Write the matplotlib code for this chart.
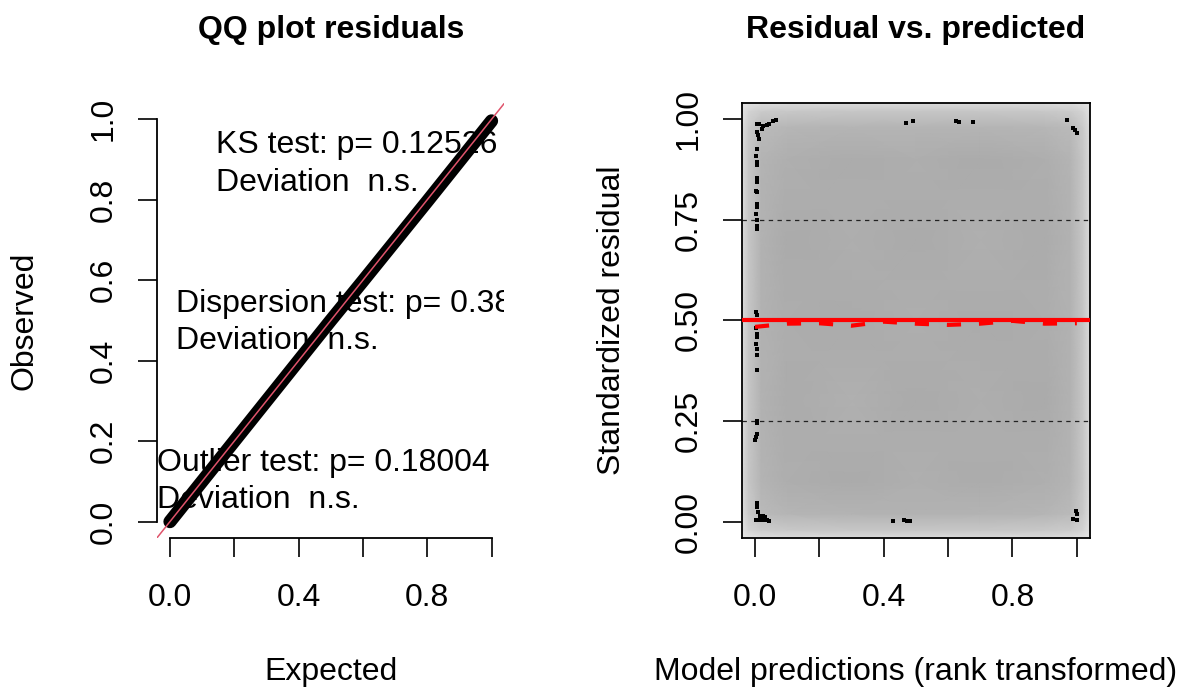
import matplotlib.pyplot as plt
from matplotlib.colors import LinearSegmentedColormap

plt.rcParams['font.family'] = ['Liberation Sans', 'DejaVu Sans']
plt.rcParams['font.size'] = 23

# QQ plot
qq_expected = [0.0, 0.1, 0.2, 0.3, 0.4, 0.5, 0.6, 0.7, 0.8, 0.9, 1.0]
qq_observed = [0.0, 0.1, 0.2, 0.3, 0.4, 0.5, 0.598, 0.697, 0.796, 0.896, 0.996]

ks_text = ["KS test: p= 0.12526", "Deviation  n.s."]
disp_text = ["Dispersion test: p= 0.384", "Deviation  n.s."]
outl_text = ["Outlier test: p= 0.18004", "Deviation  n.s."]

qq_ticks = [0.0, 0.2, 0.4, 0.6, 0.8, 1.0]
qq_xticklabels = ["0.0", "", "0.4", "", "0.8", ""]
qq_yticklabels = ["0.0", "0.2", "0.4", "0.6", "0.8", "1.0"]

# residual vs predicted: outlying points drawn on top of the smooth density
pred_x = [0.005, 0.013, 0.026, 0.021, 0.036, 0.045, 0.057, 0.065, 0.005, 0.010,
          0.013, 0.007, 0.003, 0.005, 0.005, 0.007, 0.005, 0.003, 0.007, 0.007,
          0.005, 0.003, 0.005, 0.005, 0.005,
          0.003, 0.005, 0.003, 0.005, 0.007, 0.003, 0.005, 0.007, 0.005,
          0.005, 0.007, 0.005, 0.003, 0.001,
          0.005, 0.007, 0.010, 0.016, 0.026, 0.031, 0.016, 0.026, 0.036, 0.045, 0.003,
          0.428, 0.463, 0.471, 0.481,
          0.468, 0.492, 0.626, 0.634, 0.676,
          0.970, 0.989, 0.994, 1.002,
          0.997, 1.001, 0.989, 0.999]
resid_y = [0.989, 0.988, 0.983, 0.977, 0.985, 0.989, 0.996, 0.999, 0.968, 0.960,
           0.952, 0.927, 0.910, 0.894, 0.886, 0.853, 0.844, 0.823, 0.819, 0.790,
           0.782, 0.765, 0.749, 0.736, 0.728,
           0.521, 0.513, 0.480, 0.467, 0.459, 0.442, 0.430, 0.413, 0.377,
           0.251, 0.245, 0.218, 0.210, 0.202,
           0.046, 0.036, 0.023, 0.015, 0.015, 0.011, 0.004, 0.004, 0.004, 0.002, 0.004,
           0.001, 0.004, 0.002, 0.001,
           0.992, 0.996, 0.996, 0.994, 0.994,
           0.998, 0.979, 0.973, 0.967,
           0.027, 0.019, 0.007, 0.004]

# fitted median quantile (red dashed)
quant_x = [0.0, 0.1, 0.2, 0.3, 0.4, 0.5, 0.6, 0.7, 0.8, 0.9, 1.0]
quant_y = [0.484, 0.492, 0.493, 0.487, 0.497, 0.492, 0.489, 0.492, 0.499, 0.492, 0.493]

res_ticks_x = [0.0, 0.2, 0.4, 0.6, 0.8, 1.0]
res_xticklabels = ["0.0", "", "0.4", "", "0.8", ""]
res_ticks_y = [0.0, 0.25, 0.5, 0.75, 1.0]
res_yticklabels = ["0.00", "0.25", "0.50", "0.75", "1.00"]

# smoothed density shading (0 = white, 1 = darkgrey), rows bottom to top
dens_grid = [-0.04, -0.02, 0.02, 0.1, 0.3, 0.5, 0.7, 0.9, 0.98, 1.02, 1.04]
dens_vals = [
    [0.30, 0.34, 0.40, 0.42, 0.42, 0.42, 0.42, 0.42, 0.40, 0.34, 0.30],
    [0.34, 0.50, 0.60, 0.64, 0.66, 0.66, 0.66, 0.64, 0.60, 0.50, 0.34],
    [0.40, 0.62, 0.80, 0.86, 0.88, 0.89, 0.88, 0.86, 0.80, 0.62, 0.40],
    [0.42, 0.66, 0.87, 0.94, 0.97, 0.93, 0.96, 0.93, 0.87, 0.66, 0.42],
    [0.42, 0.66, 0.89, 0.96, 0.92, 0.97, 0.94, 0.97, 0.89, 0.66, 0.42],
    [0.42, 0.66, 0.89, 0.95, 0.97, 0.94, 0.97, 0.95, 0.89, 0.66, 0.42],
    [0.42, 0.66, 0.89, 0.97, 0.94, 0.97, 0.93, 0.96, 0.89, 0.66, 0.42],
    [0.42, 0.66, 0.87, 0.93, 0.96, 0.94, 0.97, 0.94, 0.87, 0.66, 0.42],
    [0.40, 0.62, 0.80, 0.85, 0.87, 0.87, 0.87, 0.85, 0.80, 0.62, 0.40],
    [0.34, 0.50, 0.60, 0.64, 0.66, 0.66, 0.66, 0.64, 0.60, 0.50, 0.34],
    [0.30, 0.34, 0.40, 0.42, 0.42, 0.42, 0.42, 0.42, 0.40, 0.34, 0.30],
]

fig = plt.figure(figsize=(11.84, 6.93), dpi=100)
W, H = 1184, 693
ax1 = fig.add_axes([157.1 / W, (H - 537.7) / H, 347.3 / W, 434.5 / H])
ax2 = fig.add_axes([742.1 / W, (H - 537.7) / H, 347.6 / W, 434.5 / H])

lims = (-0.04, 1.04)

# ---- left: QQ plot ----
ax1.set_xlim(lims)
ax1.set_ylim(lims)
ax1.plot(lims, lims, color="#DF536B", lw=1.1, zorder=4)
ax1.plot(qq_expected, qq_observed, color="black", lw=9.5, solid_capstyle="round", zorder=3)
ax1.spines[["top", "right"]].set_visible(False)
ax1.spines["left"].set_bounds(0, 1)
ax1.spines["bottom"].set_bounds(0, 1)
for s in ax1.spines.values():
    s.set_linewidth(1.3)
ax1.set_xticks(qq_ticks, qq_xticklabels)
ax1.set_yticks(qq_ticks, qq_yticklabels)

for (lines, x, y0) in [(ks_text, 0.143, 0.916), (disp_text, 0.0187, 0.522), (outl_text, -0.0395, 0.1266)]:
    for i, line in enumerate(lines):
        ax1.text(x, y0 - i * 0.093, line, ha="left", va="baseline", zorder=1, clip_on=True)

# ---- right: residual vs predicted ----
grey_ramp = LinearSegmentedColormap.from_list("wg", ["white", "darkgrey"])
ax2.pcolormesh(dens_grid, dens_grid, dens_vals, shading="gouraud", cmap=grey_ramp,
               vmin=0, vmax=1, zorder=0, rasterized=True)
ax2.set_xlim(lims)
ax2.set_ylim(lims)
for q in (0.25, 0.75):
    ax2.axhline(q, color="#222222", lw=0.9, dashes=(3.5, 3.5), zorder=2)
ax2.plot(pred_x, resid_y, "s", color="black", ms=2.2, mew=0, zorder=3)
ax2.axhline(0.5, color="red", lw=3, zorder=4)
ax2.plot(quant_x, quant_y, color="red", lw=3, dashes=(3.4, 4.3), zorder=4)
for s in ax2.spines.values():
    s.set_linewidth(1.3)
ax2.set_xticks(res_ticks_x, res_xticklabels)
ax2.set_yticks(res_ticks_y, res_yticklabels)

for ax in (ax1, ax2):
    ax.tick_params(direction="out", length=13.7, width=1.2)
    ax.tick_params(axis="x", pad=19)
    ax.tick_params(axis="y", pad=14)
    for lab in ax.get_yticklabels():
        lab.set_rotation(90)
        lab.set_va("center")

# titles and axis labels
fig.text(330.8 / W, (H - 38) / H, "QQ plot residuals", ha="center", va="baseline",
         fontweight="bold")
fig.text(916 / W, (H - 38) / H, "Residual vs. predicted", ha="center", va="baseline",
         fontweight="bold")
fig.text(330.8 / W, (H - 680) / H, "Expected", ha="center", va="baseline")
fig.text(916 / W, (H - 680) / H, "Model predictions (rank transformed)", ha="center", va="baseline")
fig.text(33 / W, (H - 320.5) / H, "Observed", rotation=90, rotation_mode="anchor",
         ha="center", va="baseline")
fig.text(620 / W, (H - 320.5) / H, "Standardized residual", rotation=90, rotation_mode="anchor",
         ha="center", va="baseline")

fig.savefig("out.png", dpi=100)
